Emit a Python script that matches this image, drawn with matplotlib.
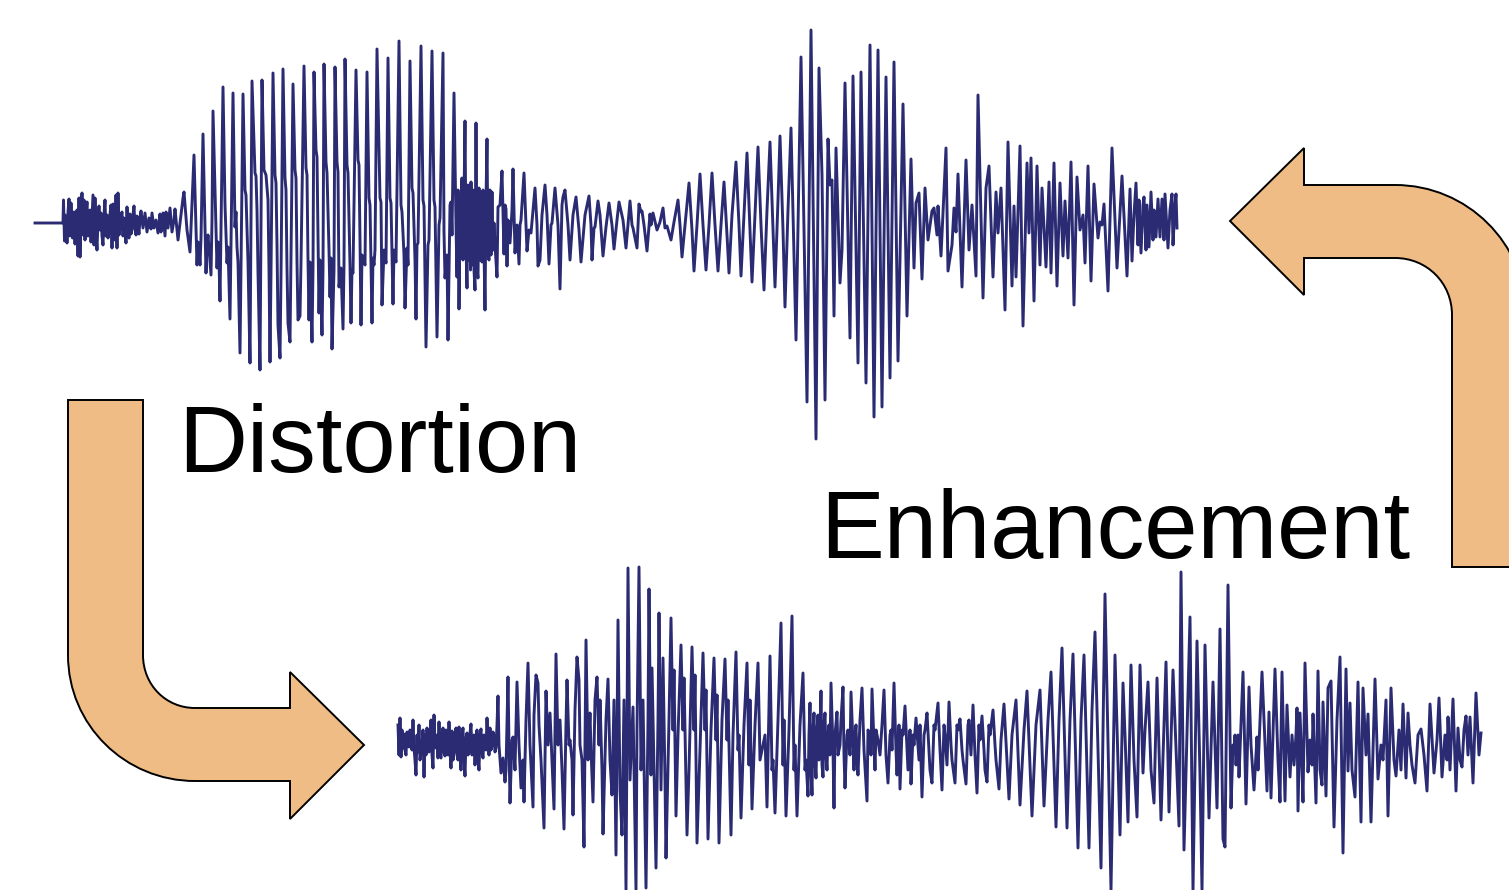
# -*- coding: utf-8 -*-
# Speech waveform before and after distortion, with the two process arrows
import matplotlib
matplotlib.use("Agg")
import matplotlib.pyplot as plt
from matplotlib.path import Path
from matplotlib.patches import PathPatch

plt.rcParams['font.family'] = ['Liberation Sans', 'DejaVu Sans']

WAVE_COLOR = "#2A2B73"
ARROW_COLOR = "#F0BC85"

# clean waveform, (time, level)
clean_noise = [(35,223),(48,223),(63,223),(63.5,200),(64.5,241),(65,215),(66,222),(67,243),(68,212),(69,199),(70,236),(71,203),
    (72,230),(72.5,238),(73,218),(74,212),(75,244),(76,222),(77,210),(78,256),(79,198),(80,257),(81,215),(82,193),(83,235),(84,200),(85,240),
    (86,215),(87,202),(88,236),(89,220),(90,210),(91,242),(92,218),(93,195),(94,245),(95,198),(96,235),(97,250),(98,220),(99,206),(100,230),(101,213),
    (102,236),(103,245),(104,215),(105,200),(106,236),(107,215),(108,238),(109,232),(110,214),(111,205),(112,248),(113,204),(114,232),(115,240),(116,195),
    (117,248),(118,193),(119,235),(120,228),(121,216),(122,212),(123,236),(124,218),(125,232),(126,243),(127,207),(128,232),(129,238),(130,214),
    (131,234),(132,230),(133,215),(134,206),(135,228),(136,235),(137,216),(138,228),(139,234),(140,218),(141,211),(143,228),(145,213),(147,232),(149,218),
    (151,229),(152,213),(154,228),(156,220),(158,233),(160,214),(161,232),(163,213),(165,236),(166,212),
    (168,228),(170,208),(172,232),(174,220),(175,209),(178,240),(183,198),(184,192),(187,230),(190,252)]
clean_vowel1 = [(194,155),(197,265),(198,242),(199,250),(200,265),(201,238),(203,134),(206,273),(207,245),(208,235),(210,262),(211,275),(212,220),(213,111),
    (217,268),(218,242),(219,262),(220,301),(223,87),(225,205),(227,263),(228,247),(230,319),(233,93),(235,227),(236,212),(237,247),(238,262),
    (240,353),(243,94),(245,190),(246,195),(247,230),(248,262),(250,363),(252,81),(255,173),(256,176),(257,210),(258,272),(260,370),(262,80),(264,170),
    (266,175),(268,200),(269,270),(270,362),(271,272),(273,73),(275,175),(276,183),(277,245),(278,325),(280,358),(281,275),(283,69),(285,178),(286,190),(287,268),(288,323),
    (290,342),(291,255),(293,84),(295,170),(296,178),(297,262),(298,320),(300,316),(301,262),(304,66),(306,168),(307,175),(308,260),(309,320),(310,262),(312,342),(313,268),(314,72),
    (316,150),(317,157),(318,235),(319,313),(320,260),(322,335),(323,270),(324,64),(326,162),(327,173),(329,250),(330,297),(331,258),(332,349),(334,270),(335,67),(337,162),(338,172),(339,287),(341,268),
    (343,329),(344,265),(345,59),(347,165),(348,173),(350,265),(351,323),(352,270),(353,273),(356,70),(358,160),(359,165),(360,240),(361,325),(362,255),(363,257),(365,265),(367,72),
    (369,198),(370,205),(371,262),(372,323),(373,258),(374,265),(375,250),(377,49),(380,198),(381,202),(382,305),(384,250),(386,263),(388,58),(390,198),(391,203),(392,255),(393,304),
    (394,250),(396,262),(399,41),(401,205),(402,212),(404,255),(405,308),(407,248),(408,265),(410,61),(412,188),(413,193),(415,260),(416,319),(417,245),(418,243),(421,46),
    (423,200),(424,206),(425,275),(426,347),(428,245),(429,240),(432,51),(434,200),(435,207),(436,270),(437,337),(439,225),(440,218),(443,53),(444,232),(445,278),(447,255),(448,340),
    (450,205),(451,202),(452,235),(454,93),(456,225),(457,277),(458,190),(459,309),(460,228),(462,178),(463,260),(464,200),(465,121),(466,245),(467,288),(468,185),(469,260),(470,200),(470.5,270),(471,182),
    (472,265),(473,190),(474,270),(475,290),(476,123),(477,270),(478,278),(479,188),(480,260),(481,192),(482,262),(483,190),(484,250),(485,310),(486,200),(487,139),(488,255),(489,260),(490,190),
    (491,255),(492,192),(493,250),(494,223),(495,245),(497,277),(498,207)]
clean_decay = [(500,205),(502,171),(504,254),(505,205),(506,209),(507,266),(508,220),(510,243),(512,210),(513,169),(515,253),(517,225),(519,264),(520,225),(521,220),
    (524,173),(527,251),(529,230),(531,233),(535,188),(537,225),(538,266),(540,260),(542,215),(545,185),(547,215),(549,264),(551,225),(552,223),(555,188),(558,225),(560,289),
    (562,205),(563,197),(565,190),(568,225),(570,260),(573,215),(576,197),(579,230),(581,262),(585,215),(589,196),(591,225),(592,260),(594,228),(595,227),(598,201),(600,215),
    (603,256),(606,227),(609,203),(612,225),(614,249),(617,220),(619,202),(623,220),(626,248),(628,225),(630,201),(632,225),(633,228),
    (637,248),(639,204),(641,212),(642,211),(644,225),(647,251),(650,214),(651,225),(653,213),(657,230),
    (660,222),(663,208),(665,228),(667,226),(671,240),(674,222),(678,200),(680,225),(682,257),(685,225)]
clean_vowel2 = [(689,183),(692,230),(694,271),(697,225),(700,174),(703,225),(706,270),(709,225),(712,173),(715,225),(718,271),(721,225),(724,182),(727,235),(729,273),(732,215),(736,162),
    (739,225),(741,276),(744,215),(747,153),(750,230),(752,282),(755,215),(758,147),(761,225),(764,290),(767,210),(770,142),(773,230),(775,287),(778,200),(780,136),(783,230),(785,307),(788,210),(791,128),
    (796,340),(801,57),(807,402),(811,30),(816,439),(819,68),(822,175),(825,400),(828,139),(830,185),(832,180),(834,316),(836,148),
    (840,283),(842,250),(845,83),(850,338),(853,76),(858,363),(861,72),(866,383),(870,45),(874,417),
    (878,50),(882,407),(886,77),(890,378),(894,62),(898,361),(903,104),(907,316),(911,159),(914,268)]
clean_tail = [(916,203),(919,193),(922,279),(925,188),(928,240),(932,211),(934,208),(937,235),(938,206),
    (941,256),(946,148),(948,271),(952,245),(954,208),(956,232),(958,174),(962,287),(966,160),(969,250),
    (972,205),(976,276),(978,95),(983,298),(986,188),(989,166),(993,277),(996,192),(998,233),(1001,188),
    (1005,310),(1008,142),(1012,286),(1014,206),(1016,277),(1020,146),(1023,326),(1027,163),(1029,233),
    (1031,158),(1034,301),(1037,166),(1040,265),(1042,188),(1046,267),(1049,182),(1051,273),(1054,163),
    (1057,286),(1060,183),(1063,256),(1065,201),(1068,258),(1071,162),(1074,305),(1077,177),(1080,230),
    (1083,215),(1085,263),(1088,166),(1091,281),(1094,184),(1098,238),(1100,222),(1102,225),(1104,204),
    (1108,291),(1112,148),(1117,268),(1122,176),(1127,276),(1130,189),(1132,261),(1134,215),(1136,183),(1138,245),
    (1139,200),(1141,253),(1143,205),(1144,197),(1146,250),(1147,205),(1149,247),(1151,192),(1153,240),
    (1154,210),(1156,237),(1158,199),(1160,237),(1162,199),(1164,240),(1165,194),(1168,248),(1170,210),
    (1172,194),(1173,245),(1175,205),(1176,194),(1177,228)]

# distorted waveform
noisy_lead = [(398,725),(399,755),(400,718),(401,757),(402,730),(403,748),(404,734),(405,750),(406,755),(407,732),(408,738),(409,747),(410,730),(411,736),
    (412,750),(413,720),(414,748),(415,760),(416,775),(417,735),(418,752),(419,725),(420,760),(421,752),(422,745),(423,730),(424,777),(425,735),(426,755),(427,728),
    (428,750),(429,752),(430,735),(431,720),(432,755),(433,768),(434,715),(435,745),(436,748),(437,735),(438,758),(439,722),(440,755),(441,758),(442,735),(443,728),(444,752),(445,756),
    (446,730),(447,735),(448,755),(449,722),(450,750),(451,768),(452,731),(453,760),(454,755),(455,735),(456,728),(457,752),(458,760),(459,727),(460,755),(461,770),(462,735),(463,728),
    (464,760),(465,776),(466,738),(467,733),(468,755),(469,752),(470,733),(471,724),(472,755),(473,745),(474,735),(475,765),(476,742),(477,730),(478,758),(479,770),(480,735),(481,729),(482,752),(483,758),
    (484,735),(485,740),(486,750),(487,718),(488,742),(489,755),(490,728),(491,750),(492,745),(493,732),(494,736),(495,752),(496,748),(497,725)]
noisy_vowel1 = [(498,696),(499,745),(501,773),(503,758),(505,782),(506,770),(508,677),(509,745),(510,803),(512,740),(513,737),(515,770),(517,682),(519,745),(521,788),(523,760),(524,802),
    (526,720),(528,663),(530,745),(533,807),(534,715),(536,675),(538,683),(539,725),(541,760),(544,828),(546,691),(548,745),(550,713),(552,760),(554,809),(556,654),
    (558,745),(560,720),(562,770),(564,829),(566,725),(567,680),(569,745),(570,740),(572,760),(573,815),(575,710),(577,657),(579,680),(580,745),(582,760),(584,847),(586,640),
    (588,760),(590,713),(591,750),(593,802),(595,700),(597,677),(599,745),(600,700),(602,770),(603,834),(606,720),(608,679),(610,760),(612,795),(614,700),(616,855),(618,620),(620,790),(622,835),
    (624,700),(626,890),(628,568),(630,780),(633,707),(636,890),(637,730),(639,567),(641,770),(643,700),(646,888),(648,720),(649,589),(651,775),(652,668),(654,770),(656,868),
    (658,720),(659,613),(661,790),(663,658),(665,780),(666,858),(669,720),(671,618),(673,730),(674,670),(676,816),(678,735),(681,645),(683,730),(684,678),(687,835),(689,770),(692,647),
    (694,730),(695,675),(697,843),(700,750),(703,653),(705,730),(706,690),(708,839),(711,730),(714,658),(716,740),(717,695),(719,843),(722,720),(725,659),(727,740),(728,700),
    (731,835),(733,735),(736,652),(738,750),(739,735),(741,818),(744,725),(747,663),(749,765),(750,700),(752,809),(755,725),(758,663),(760,760),(762,750),(765,735),(767,807),
    (770,656),(772,770),(773,760),(775,813),(778,720),(781,623),(783,765),(784,720),(786,816),(789,730),(792,616),(794,770),(795,745),(797,816),(800,725),(803,673),
    (805,770),(806,760),(808,796),(809,735),(810,703),(811,770),(812,795)]
noisy_mid = [(813,730),(814,713),(815,760),(816,778),(817,730),(818,715),(819,760),(820,735),(821,691),(822,765),(823,777),(824,725),(825,713),(826,755),(827,770),(828,735),(829,725),(830,755),(831,683),
    (833,750),(834,808),(835,735),(837,712),(838,755),(840,745),(841,720),(843,687),(844,755),(845,788),(847,735),(848,730),(850,755),(851,692),(853,745),(854,770),(855,735),(856,725),(857,760),(858,775),(860,720),
    (862,688),(864,750),(867,801),(868,730),(870,735),(871,755),(872,689),(874,745),(875,770),(876,730),(878,740),(880,755),(882,725),(884,690),(886,755),(888,783),(890,735),(891,730),(892,750),(894,683),
    (896,750),(897,775),(899,725),(900,789),(902,730),(903,735),(905,706),(907,750),(908,770),(910,730),(911,784),(913,735),(914,745),(916,718),(918,745),(919,760),(920,725),(922,797),(924,735),
    (925,730),(927,713),(929,750),(930,770),(932,783),(934,725),(935,730),(938,703),(940,750),(942,790),(944,725),(945,735),(947,765),(949,702),(951,745),(952,760),
    (955,783),(957,725),(958,730),(960,719),(962,750),(963,760),(966,784),(968,725),(969,720),(971,755),(973,705),(975,755),(977,793),(979,725),(980,740),(982,716),
    (984,750),(985,770),(987,782),(989,725),(990,735),(993,710),(995,745),(996,760),(999,789),(1001,740),(1004,704),(1007,760),(1009,799),(1012,735)]
noisy_vowel2 = [(1016,700),(1020,805),(1024,730),(1027,691),(1032,816),(1036,725),(1040,690),(1044,806),(1048,720),(1051,672),(1056,827),(1059,720),
    (1062,648),(1067,828),(1070,720),(1073,654),(1078,848),(1081,720),(1084,655),(1089,848),(1092,710),(1095,632),(1101,868),(1105,594),
    (1111,890),(1115,655),(1120,835),(1123,683),(1125,735),(1128,822),(1131,665),(1134,760),(1137,817),
    (1140,665),(1143,773),(1145,730),(1148,682),(1151,770),(1154,803),(1157,678),(1161,820),(1166,662),
    (1169,812),(1173,670),(1179,826),(1181,572),(1184,850),(1190,617),(1193,890),(1197,641),(1200,775),
    (1202,890),(1205,645),(1209,818),(1213,682),(1217,808),(1220,629),(1223,839),(1225,847),(1228,585),
    (1231,808)]
noisy_tail = [(1233,745),(1234,750),(1235,735),(1236,765),(1237,748),(1238,735),(1239,777),(1243,672),(1246,804),(1249,687),(1251,745),(1254,790),
    (1257,737),(1258,770),(1262,672),(1265,745),(1267,791),(1269,712),(1271,798),(1273,735),(1275,669),(1278,760),(1280,802),(1282,672),
    (1285,801),(1287,705),(1290,777),(1292,735),(1294,765),(1296,735),(1297,708),(1298,811),(1300,713),(1302,770),(1303,802),
    (1305,663),(1308,772),(1310,740),(1312,765),(1313,714),(1316,803),(1318,671),(1320,770),(1322,785),(1323,702),(1326,796),
    (1328,688),(1331,681),(1334,827),(1337,720),(1340,657),(1343,853),(1346,669),(1348,771),(1350,703),(1352,770),
    (1355,797),(1358,682),(1361,822),(1363,688),(1366,755),(1368,714),(1371,822),(1375,679),(1378,779),
    (1381,745),(1383,760),(1386,700),(1388,816),(1391,688),(1394,760),(1396,776),(1399,730),(1401,770),(1403,704),
    (1406,778),(1408,713),(1410,745),(1412,765),(1415,783),(1418,735),(1421,729),(1424,755),(1427,791),(1430,704),
    (1434,773),(1437,740),(1439,698),(1442,777),(1445,735),(1447,760),(1448,717),(1450,770),(1453,699),(1456,791),
    (1458,728),(1460,760),(1462,767),(1464,730),(1466,716),(1468,755),(1470,717),(1473,783),(1476,693),(1479,755),
    (1481,733)]

clean_wave = clean_noise + clean_vowel1 + clean_decay + clean_vowel2 + clean_tail
noisy_wave = noisy_lead + noisy_vowel1 + noisy_mid + noisy_vowel2 + noisy_tail

labels = ["Distortion", "Enhancement"]

fig = plt.figure(figsize=(15.09, 8.90), dpi=100)
ax = fig.add_axes([0, 0, 1, 1])
ax.set_xlim(0, 1509)
ax.set_ylim(890, 0)
ax.axis("off")

# arrows
M, L, C, Z = Path.MOVETO, Path.LINETO, Path.CURVE4, Path.CLOSEPOLY
left_arrow = Path(
    [(68, 400), (143, 400), (143, 655), (143, 685), (166, 708), (195, 708), (290, 708), (290, 672),
     (364, 745), (290, 819), (290, 781), (195, 781), (125, 781), (68, 725), (68, 655), (68, 400)],
    [M, L, L, C, C, C, L, L, L, L, L, L, C, C, C, Z])
right_arrow = Path(
    [(1230, 221), (1304, 148), (1304, 185), (1395, 185), (1467, 185), (1526, 243), (1526, 315),
     (1526, 567), (1452, 567), (1452, 315), (1452, 283), (1427, 258), (1395, 258), (1304, 258),
     (1304, 295), (1230, 221)],
    [M, L, L, L, C, C, C, L, L, L, C, C, C, L, L, Z])
for shape in (left_arrow, right_arrow):
    ax.add_patch(PathPatch(shape, facecolor=ARROW_COLOR, edgecolor="black", linewidth=1.4))

# waveforms
for wave in (clean_wave, noisy_wave):
    t = [p[0] for p in wave]
    level = [p[1] for p in wave]
    ax.plot(t, level, color=WAVE_COLOR, linewidth=2.1, solid_joinstyle="round")

ax.text(178, 472, labels[0], fontsize=68.7, color="black", ha="left", va="baseline")
ax.text(820, 558, labels[1], fontsize=68.9, color="black", ha="left", va="baseline")

fig.savefig("out.png", dpi=100)
